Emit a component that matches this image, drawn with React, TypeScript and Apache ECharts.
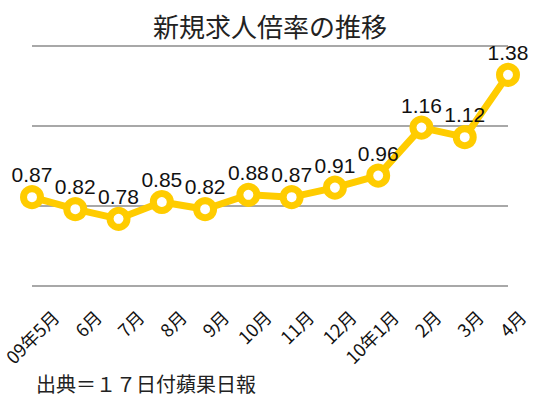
import React, { useEffect, useRef } from "react";
import * as echarts from "echarts";

const categories = ["09年5月", "6月", "7月", "8月", "9月", "10月", "11月", "12月", "10年1月", "2月", "3月", "4月"];
const ratios = [0.87, 0.82, 0.78, 0.85, 0.82, 0.88, 0.87, 0.91, 0.96, 1.16, 1.12, 1.38];
const titleText = "新規求人倍率の推移";
const sourceText = "出典＝１７日付蘋果日報";

const YELLOW = "#FFCC00";
const GRID_GRAY = "#A8A8A8";

export default function App() {
  const ref = useRef<HTMLDivElement>(null);
  useEffect(() => {
    document.body.style.margin = "0";
    if (!ref.current) return;
    const chart = echarts.init(ref.current, undefined, { renderer: "svg" });
    chart.setOption({
      animation: false,
      backgroundColor: "#ffffff",
      title: {
        text: titleText,
        left: "center",
        top: 7,
        textStyle: { fontFamily: "Noto Sans CJK JP", fontSize: 26, fontWeight: "normal", color: "#222" },
      },
      graphic: [
        {
          type: "text",
          left: 36,
          top: 373,
          style: { text: sourceText, fontFamily: "Noto Sans CJK JP", fontSize: 20, fill: "#222" },
        },
      ],
      grid: [
        { left: 32, right: 32, top: 46, bottom: 111, containLabel: false },
        { left: 46, right: 18, top: 46, bottom: 111, containLabel: false },
      ],
      xAxis: [
        {
          type: "category",
          gridIndex: 0,
          data: categories,
          boundaryGap: false,
          axisLine: { show: false },
          axisTick: { show: false },
          axisLabel: { show: false },
          splitLine: { show: false },
        },
        {
          type: "category",
          gridIndex: 1,
          data: categories,
          boundaryGap: false,
          axisLine: { show: false },
          axisTick: { show: false },
          splitLine: { show: false },
          axisLabel: {
            show: true,
            interval: 0,
            rotate: 45,
            margin: 27,
            fontFamily: "Noto Sans CJK JP",
            fontSize: 18,
            color: "#111",
          },
        },
      ],
      yAxis: [
        {
          type: "value",
          gridIndex: 0,
          min: 0.5,
          max: 1.5,
          show: false,
          splitLine: { show: false },
        },
        {
          type: "value",
          gridIndex: 0,
          min: 0,
          max: 3,
          interval: 1,
          axisLine: { show: false },
          axisTick: { show: false },
          axisLabel: { show: false },
          splitLine: { show: true, lineStyle: { color: GRID_GRAY, width: 2 } },
        },
        {
          type: "value",
          gridIndex: 1,
          min: 0.5,
          max: 1.5,
          show: false,
          splitLine: { show: false },
        },
      ],
      series: [
        {
          type: "line",
          xAxisIndex: 0,
          yAxisIndex: 0,
          data: ratios,
          symbol: "circle",
          symbolSize: 17,
          showAllSymbol: true,
          lineStyle: { color: YELLOW, width: 7 },
          itemStyle: { color: "#ffffff", borderColor: YELLOW, borderWidth: 7 },
          label: {
            show: true,
            position: "top",
            distance: 0,
            fontFamily: "Liberation Sans",
            fontSize: 21,
            color: "#111",
            formatter: (p: any) => p.value.toFixed(2),
          },
          z: 3,
        },
      ],
    });
    return () => chart.dispose();
  }, []);
  return <div ref={ref} style={{ width: 540, height: 397 }} />;
}
